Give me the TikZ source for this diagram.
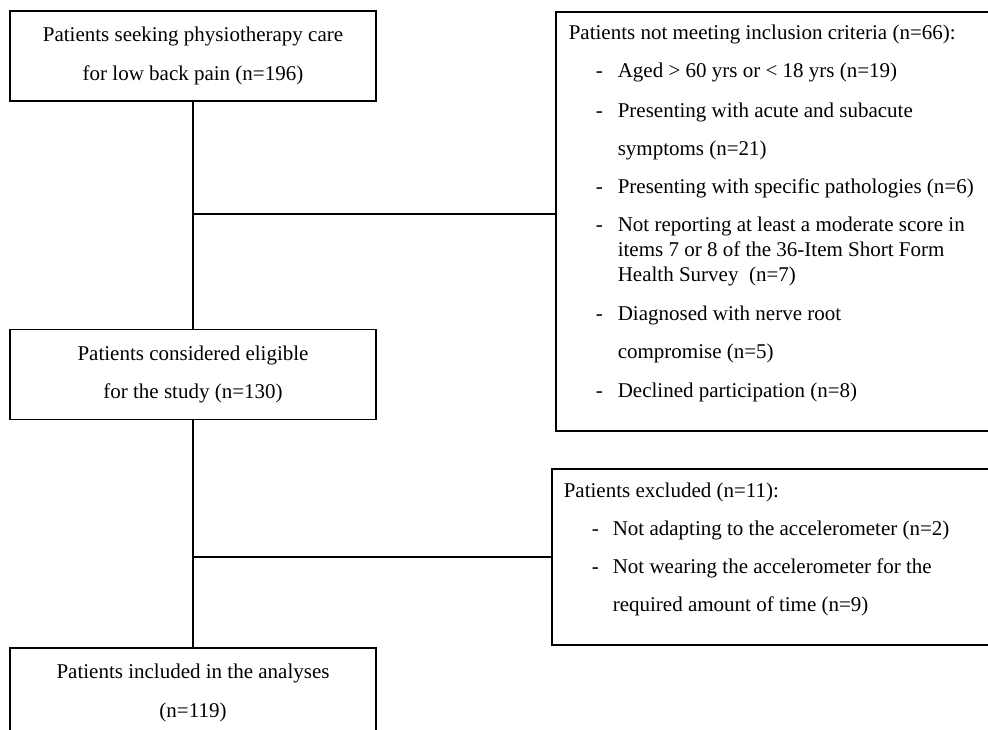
\documentclass[tikz,border=0pt]{standalone}
\usepackage{fontspec}
\setmainfont{Liberation Serif}
\usetikzlibrary{positioning}
\newcommand{\itemdash}[1]{\makebox[#1][l]{\hspace*{27pt}-}}
\newcommand{\itemgap}{\hspace*{49pt}}
\begin{document}
\begin{tikzpicture}[x=1pt, y=-1pt, line width=1.6pt, node distance=227pt, font=\fontsize{21}{25}\selectfont, flow box/.style={rectangle, draw, minimum width=366pt, minimum height=90pt, align=center, inner sep=0pt}, excl box/.style={rectangle, draw, minimum width=480pt, anchor=north west}, list text/.style={align=left, inner sep=0pt, anchor=north west}]

			\useasboundingbox (0,0) rectangle (988,729);
			\clip (0,0) rectangle (988,729);

			\node[flow box] (seeking) at (193,56) {Patients seeking physiotherapy care\\[14pt]for low back pain (n=196)};
			\node[flow box] (eligible) [below=of seeking] {Patients considered eligible\\[13pt]for the study (n=130)};
			\node[flow box] (included) [below=of eligible] {Patients included in the analyses\\[14pt](n=119)};

			\node[excl box, minimum height=419pt] (criteria) at (555,11) {};
			\node[excl box, minimum height=176pt] (excluded) at (551,468) {};

			% inclusion criteria list
			\node[list text] (criteriatext) at ([xshift=13pt, yshift=-13pt]criteria.north west) {Patients not meeting inclusion criteria (n=66):\\[13pt]
				\itemdash{49pt}Aged > 60 yrs or < 18 yrs (n=19)\\[15pt]
				\itemdash{49pt}Presenting with acute and subacute\\[13pt]
				\itemgap symptoms (n=21)\\[13pt]
				\itemdash{49pt}Presenting with specific pathologies (n=6)\\[13pt]
				\itemdash{49pt}Not reporting at least a moderate score in\\
				\itemgap items 7 or 8 of the 36-Item Short Form\\
				\itemgap Health Survey\ \ (n=7)\\[14pt]
				\itemdash{49pt}Diagnosed with nerve root\\[13pt]
				\itemgap compromise (n=5)\\[14pt]
				\itemdash{49pt}Declined participation (n=8)};

			% exclusion list
			\node[list text] (excludedtext) at ([xshift=12pt, yshift=-14pt]excluded.north west) {Patients excluded (n=11):\\[13pt]
				\hspace*{1pt}\itemdash{48pt}Not adapting to the accelerometer (n=2)\\[13pt]
				\hspace*{1pt}\itemdash{48pt}Not wearing the accelerometer for the\\[13pt]
				\hspace*{49pt}required amount of time (n=9)};

			% flow lines
			\coordinate (split1) at (193,214);
			\draw (seeking) -- (eligible);
			\draw (split1) -- (split1 -| criteria.west);
			\coordinate (split2) at (eligible.south |- excluded.west);
			\draw (eligible) -- (included);
			\draw (split2) -- (excluded.west);

		\end{tikzpicture}
\end{document}
